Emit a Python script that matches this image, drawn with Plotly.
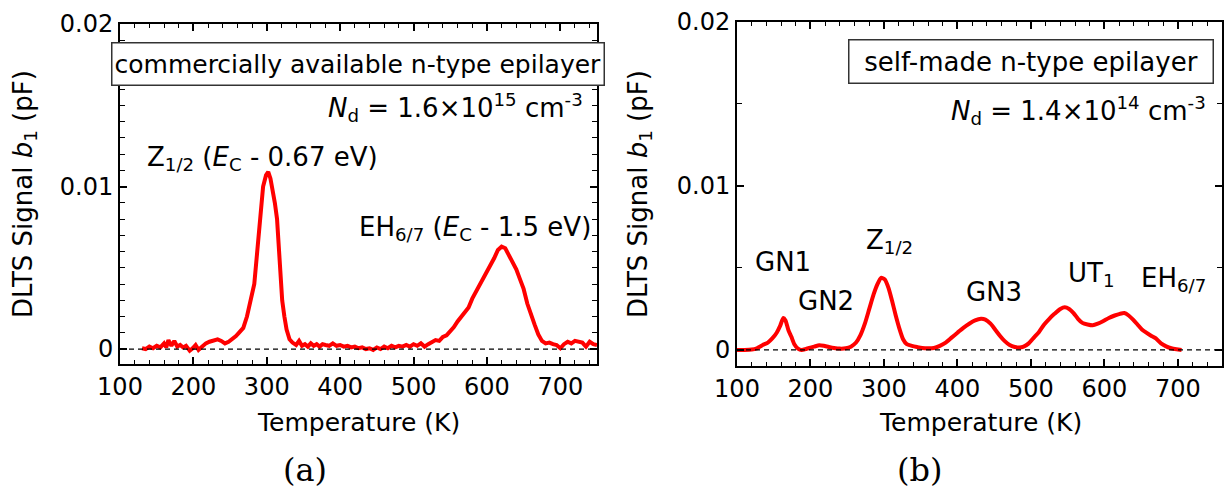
import plotly.graph_objects as go

# ---- panel (a): commercially available n-type epilayer ----
temp_a = [130, 135, 140, 145, 150, 155, 160, 163, 166, 170, 174, 178, 182, 186, 190, 195, 199, 203, 207,
          212, 217, 222, 228, 233, 238, 243, 248, 253, 258, 262, 268, 273, 278, 283, 287, 291, 295, 299,
          302, 305, 308, 311, 314, 317, 319, 321, 324, 327, 331, 335, 340, 344, 348, 352, 356, 360, 364,
          368, 372, 376, 380, 385, 390, 395, 400, 405, 410, 415, 420, 425, 430, 435, 440, 445, 450, 455,
          460, 465, 470, 475, 480, 485, 490, 495, 500, 505, 510, 515, 520, 525, 530, 535, 540, 545, 550,
          555, 560, 565, 570, 575, 580, 585, 590, 595, 600, 605, 610, 615, 620, 625, 630, 635, 640, 645,
          650, 655, 660, 665, 670, 675, 680, 685, 690, 695, 700, 705, 710, 715, 720, 725, 730, 735, 740,
          745, 750]
signal_a = [0.00005, 0.0, 0.00015, 0.00005, 0.0002, 0.0001, 0.00035, 0.0001, 0.00055, 0.0002, 0.0005,
            0.00015, 0.00025, 0.0001, 0.0002, -0.0001, 0.00005, 0.00025, -0.00005, 0.00015, 0.00035,
            0.00045, 0.00055, 0.0006, 0.0005, 0.00035, 0.00045, 0.0006, 0.0008, 0.001, 0.0013, 0.002,
            0.0029, 0.004, 0.006, 0.008, 0.01, 0.0107, 0.0109, 0.0105, 0.0098, 0.009, 0.008, 0.006,
            0.0043, 0.003, 0.002, 0.0012, 0.0006, 0.0004, 0.00025, 0.0005, 0.0002, 0.0003, 0.00015,
            0.00035, 0.0002, 0.0003, 0.00015, 0.0003, 0.00025, 0.0002, 0.00035, 0.0002, 0.00025, 0.00015,
            0.0002, 0.0001, 0.00015, 0.00005, 0.0001, 0.0, 0.00005, -0.00005, 0.0001, 0.0, 0.00015,
            0.00005, 0.0002, 0.0001, 0.0002, 0.00015, 0.00025, 0.00015, 0.0003, 0.0002, 0.00035, 0.00015,
            0.0003, 0.00045, 0.00055, 0.0005, 0.00075, 0.00085, 0.0011, 0.00135, 0.0017, 0.002, 0.0022,
            0.00255, 0.0031, 0.0035, 0.0039, 0.0043, 0.0048, 0.0052, 0.0056, 0.0061, 0.0063, 0.0062,
            0.0058, 0.0054, 0.0049, 0.0043, 0.0037, 0.0028, 0.0021, 0.0015, 0.0009, 0.0005, 0.00035,
            0.0004, 0.0003, 0.00025, 0.00005, 0.0003, 0.00045, 0.00035, 0.0005, 0.00045, 0.0004, 0.00015,
            0.00045, 0.0003, 0.00025]

# ---- panel (b): self-made n-type epilayer ----
temp_b = [100, 110, 120, 127, 135, 142, 148, 154, 159, 163, 166, 170, 174, 178, 183, 188, 193, 198, 205,
          212, 218, 225, 232, 240, 248, 255, 262, 268, 274, 280, 286, 291, 296, 301, 306, 311, 316, 321,
          326, 331, 338, 345, 352, 360, 368, 376, 384, 392, 400, 408, 416, 424, 432, 438, 445, 452, 458,
          464, 471, 478, 484, 490, 497, 504, 511, 518, 525, 532, 540, 546, 552, 558, 564, 570, 577, 584,
          591, 598, 606, 614, 621, 627, 633, 639, 645, 651, 657, 664, 670, 677, 684, 691, 698, 705]
signal_b = [0.0, 0.0, 0.00002, 0.0001, 0.0003, 0.00045, 0.0007, 0.00105, 0.0015, 0.00195, 0.0018, 0.0012,
            0.0008, 0.00035, 0.00008, 0.0, 0.00005, 0.00012, 0.0002, 0.00028, 0.00025, 0.00018, 0.00012,
            0.00008, 0.0001, 0.0002, 0.00045, 0.0009, 0.0016, 0.0025, 0.0034, 0.004, 0.0044, 0.0043,
            0.0038, 0.003, 0.0021, 0.0013, 0.00065, 0.00035, 0.00025, 0.00018, 0.00012, 0.0001, 0.00012,
            0.00025, 0.00045, 0.00075, 0.00105, 0.00135, 0.0016, 0.0018, 0.0019, 0.00185, 0.0016, 0.0012,
            0.00085, 0.00055, 0.0003, 0.00018, 0.00015, 0.0002, 0.0004, 0.00075, 0.0011, 0.00155, 0.0019,
            0.0022, 0.0025, 0.0026, 0.0025, 0.00225, 0.0019, 0.00165, 0.00155, 0.0015, 0.0016, 0.00175,
            0.00195, 0.0021, 0.0022, 0.00225, 0.0021, 0.00185, 0.00155, 0.00125, 0.00105, 0.00085, 0.0007,
            0.0004, 0.00022, 0.0001, 0.00004, 0.0]

y_ticks = [0, 0.01, 0.02]
y_tick_text = ["0", "0.01", "0.02"]
x_ticks = [100, 200, 300, 400, 500, 600, 700]

W, H = 1230, 500
FONT = "DejaVu Sans"
RED = "#ff0000"


def px(x):
    return x / W


def py(y):
    return 1 - y / H


fig = go.Figure()
fig.add_trace(go.Scatter(x=temp_a, y=signal_a, mode="lines", xaxis="x", yaxis="y",
                         line=dict(color=RED, width=4), showlegend=False))
fig.add_trace(go.Scatter(x=temp_b, y=signal_b, mode="lines", xaxis="x2", yaxis="y2",
                         line=dict(color=RED, width=4, shape="spline", smoothing=0.6),
                         showlegend=False))

axis_common = dict(showline=True, linecolor="black", linewidth=2, mirror="ticks",
                   ticks="inside", ticklen=7, tickwidth=1.5, tickcolor="black",
                   showgrid=False, zeroline=False, automargin=False,
                   tickfont=dict(family=FONT, size=24, color="black"))


def x_axis(domain, rng, anchor):
    return dict(axis_common, domain=domain, range=rng, anchor=anchor,
                tickmode="array", tickvals=x_ticks,
                minor=dict(ticks="inside", ticklen=4, tickwidth=1.2, tickcolor="black",
                           tickmode="linear", tick0=100, dtick=20, showgrid=False))


def y_axis(domain, rng, anchor, minor_step):
    return dict(axis_common, domain=domain, range=rng, anchor=anchor,
                tickmode="array", tickvals=y_ticks, ticktext=y_tick_text,
                minor=dict(ticks="inside", ticklen=5, tickwidth=1.2, tickcolor="black",
                           tickmode="linear", tick0=0, dtick=minor_step, showgrid=False))


fig.update_layout(
    width=W, height=H, autosize=False,
    margin=dict(l=0, r=0, t=0, b=0),
    paper_bgcolor="white", plot_bgcolor="white",
    font=dict(family=FONT, color="black", size=24),
    xaxis=x_axis([px(120), px(597)], [100, 750], "y"),
    yaxis=y_axis([py(364), py(24)], [-0.00092, 0.02], "x", 0.001),
    xaxis2=x_axis([px(737), px(1222)], [100, 760], "y2"),
    yaxis2=y_axis([py(366), py(22)], [-0.00098, 0.02], "x2", 0.005),
)

# dashed zero reference lines
for xr, yr in (("x domain", "y"), ("x2 domain", "y2")):
    fig.add_shape(type="line", xref=xr, yref=yr, x0=0, x1=1, y0=0, y1=0,
                  line=dict(color="black", width=1.3, dash="5px,4px"), layer="above")


def note(text, x, y, size=26, xanchor="center", yanchor="middle", family=FONT, **kw):
    fig.add_annotation(text=text, xref="paper", yref="paper", x=px(x), y=py(y),
                       xanchor=xanchor, yanchor=yanchor, showarrow=False,
                       font=dict(family=family, size=size, color="black"), **kw)


# axis titles
ytitle = "DLTS Signal <i>b</i><sub>1</sub> (pF)"
note(ytitle, 24, 194, size=26, textangle=-90)
note(ytitle, 639, 194, size=26, textangle=-90)
note("Temperature (K)", 358, 422, size=25)
note("Temperature (K)", 980, 422, size=25)

# sample boxes
note("commercially available n-type epilayer", 111, 42, size=25, xanchor="left", yanchor="top",
     width=487, height=37, align="left", bordercolor="#333333", borderwidth=1.5,
     borderpad=2, bgcolor="white")
note("self-made n-type epilayer", 848, 39, size=26, xanchor="left", yanchor="top",
     width=359, height=38, align="center", bordercolor="#333333", borderwidth=1.5,
     borderpad=2, bgcolor="white")

# doping concentrations
note("<i>N</i><sub>d</sub> = 1.6×10<sup>15</sup> cm<sup>-3</sup>", 455, 108)
note("<i>N</i><sub>d</sub> = 1.4×10<sup>14</sup> cm<sup>-3</sup>", 1078, 111)

# trap labels, panel (a)
note("Z<sub>1/2</sub> (<i>E</i><sub>C</sub> - 0.67 eV)", 262, 158)
note("EH<sub>6/7</sub> (<i>E</i><sub>C</sub> - 1.5 eV)", 475, 229)

# trap labels, panel (b)
note("GN1", 783, 262)
note("GN2", 826, 301)
note("Z<sub>1/2</sub>", 889, 241)
note("GN3", 994, 292)
note("UT<sub>1</sub>", 1091, 274)
note("EH<sub>6/7</sub>", 1173, 279)

# panel tags
note("(a)", 305, 470, size=32, family="DejaVu Serif")
note("(b)", 919, 470, size=32, family="DejaVu Serif")

fig.write_html("out.html")
